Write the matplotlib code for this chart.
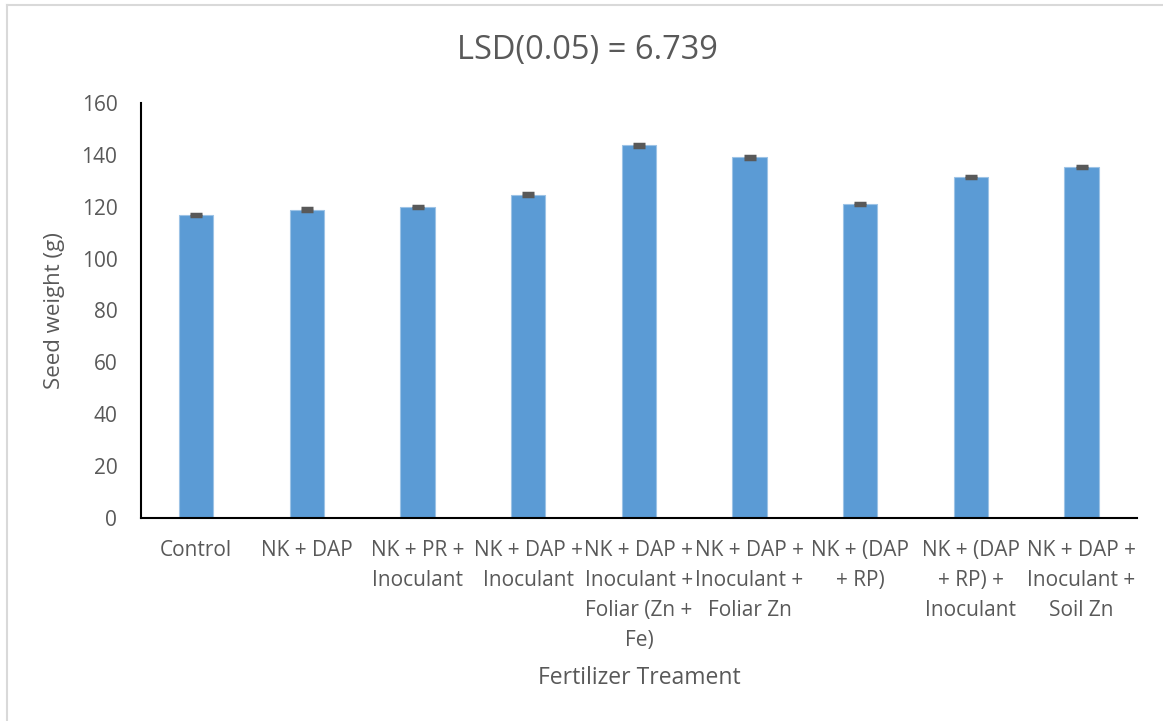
import matplotlib.pyplot as plt
import numpy as np

plt.rcParams['font.family'] = ['Open Sans', 'DejaVu Sans']

# данные
treatments = ["Control", "NK + DAP", "NK + PR +\nInoculant", "NK + DAP +\nInoculant",
              "NK + DAP +\nInoculant +\nFoliar (Zn +\nFe)", "NK + DAP +\nInoculant +\nFoliar Zn",
              "NK + (DAP\n+ RP)", "NK + (DAP\n+ RP) +\nInoculant", "NK + DAP +\nInoculant +\nSoil Zn"]
seed_weight = [116.9, 118.9, 119.9, 124.7, 143.7, 139.1, 121.0, 131.5, 135.4]
errors = [0.5, 0.5, 0.5, 0.5, 0.5, 0.5, 0.5, 0.5, 0.5]

text_color = '#595959'

fig = plt.figure(figsize=(11.63, 7.21), dpi=100)
ax = fig.add_axes([0.1212, 0.2816, 0.8564, 0.5755])

x = np.arange(len(treatments))
ax.bar(x, seed_weight, width=0.31, color='#5B9BD5', edgecolor='#9DC3E6', linewidth=0.8,
       yerr=errors, error_kw=dict(ecolor='#595959', elinewidth=1.5, capsize=4.5, capthick=2.5))

ax.set_xlim(-0.5, len(treatments) - 0.5)
ax.set_ylim(0, 160)
ax.set_yticks(range(0, 161, 20))
ax.set_xticks(x)
ax.set_xticklabels(treatments, linespacing=1.55)
ax.tick_params(axis='both', length=0, labelsize=15, colors=text_color)
ax.tick_params(axis='y', pad=17)
ax.tick_params(axis='x', pad=16)

for s in ['top', 'right']:
    ax.spines[s].set_visible(False)
for s in ['left', 'bottom']:
    ax.spines[s].set_color('black')
    ax.spines[s].set_linewidth(1.5)

# заголовок по центру рисунка, а не осей
fig.text(0.505, 1 - 50 / 721, "LSD(0.05) = 6.739", fontsize=23.5, color=text_color,
         ha='center', va='center')
ax.set_ylabel("Seed weight (g)", fontsize=16, color=text_color, labelpad=12)
ax.set_xlabel("Fertilizer Treament", fontsize=16.5, color=text_color, labelpad=11)

# рамка сверху и слева
fig.add_artist(plt.Line2D([7 / 1163, 1], [1 - 5 / 721, 1 - 5 / 721], color='#D9D9D9', lw=1.5))
fig.add_artist(plt.Line2D([7 / 1163, 7 / 1163], [0, 1 - 5 / 721], color='#D9D9D9', lw=1.5))

fig.savefig("out.png", dpi=100)
